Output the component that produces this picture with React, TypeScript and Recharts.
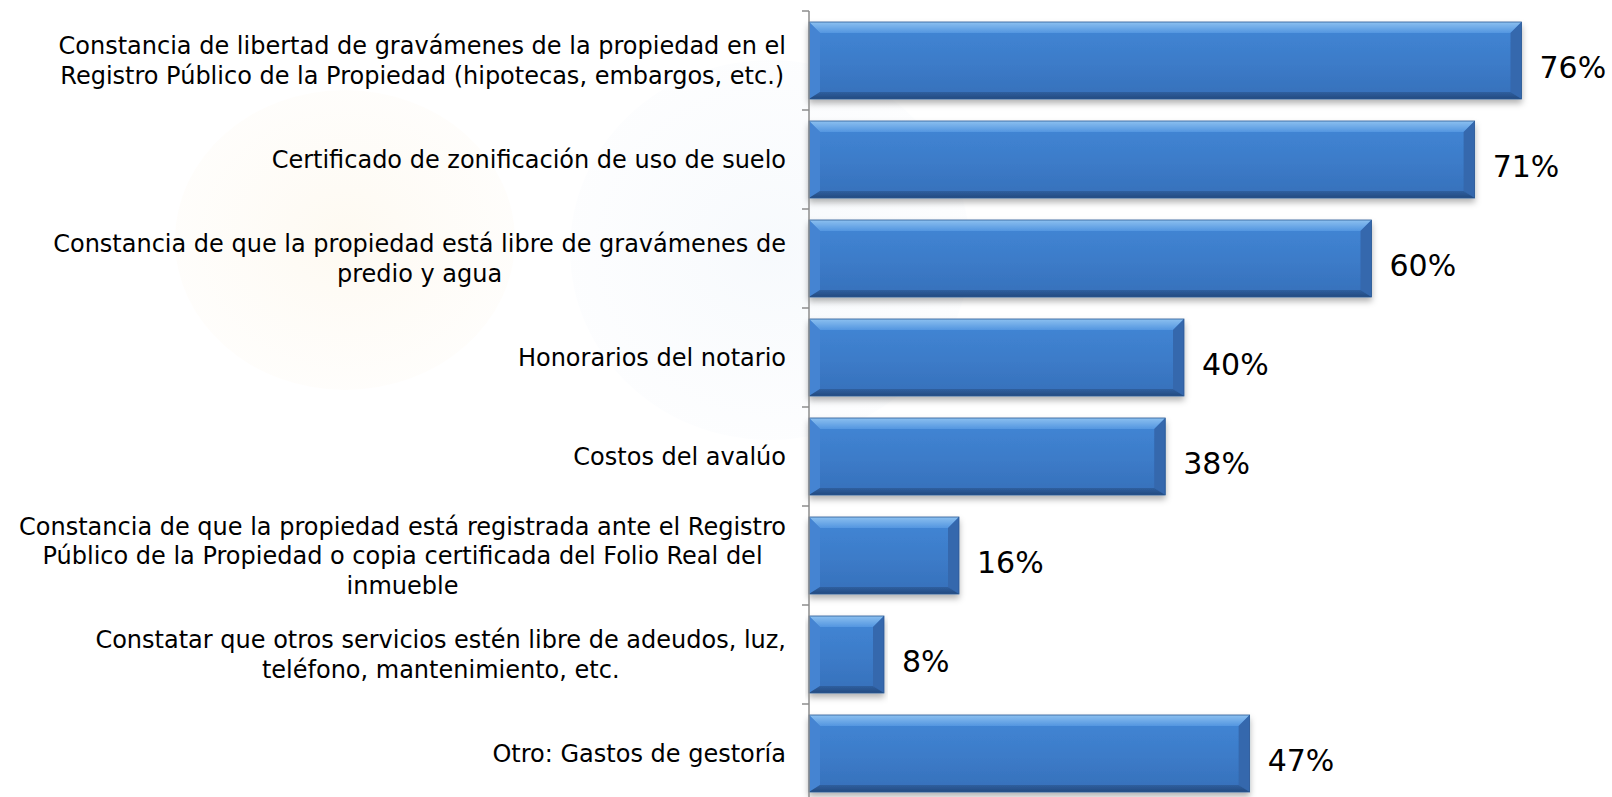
import React from 'react'
import { BarChart, Bar, XAxis, YAxis, LabelList, Customized } from 'recharts'

const categories = [
  'Constancia de libertad de gravámenes de la propiedad en el\nRegistro Público de la Propiedad (hipotecas, embargos, etc.)',
  'Certificado de zonificación de uso de suelo',
  'Constancia de que la propiedad está libre de gravámenes de\npredio y agua',
  'Honorarios del notario',
  'Costos del avalúo',
  'Constancia de que la propiedad está registrada ante el Registro\nPúblico de la Propiedad o copia certificada del Folio Real del\ninmueble',
  'Constatar que otros servicios estén libre de adeudos, luz,\nteléfono, mantenimiento, etc.',
  'Otro: Gastos de gestoría',
]
const values = [76, 71, 60, 40, 38, 16, 8, 47]

const data = categories.map((name, i) => ({ name, value: values[i] }))

const FONT = '"DejaVu Sans", Verdana, sans-serif'
const LABEL_SIZE = 24
const LINE_H = 29.5
const BAND = 99

let ctx: CanvasRenderingContext2D | null = null
const measure = (s: string) => {
  if (!ctx) ctx = document.createElement('canvas').getContext('2d')
  if (!ctx) return s.length * LABEL_SIZE * 0.6
  ctx.font = `${LABEL_SIZE}px "DejaVu Sans"`
  return ctx.measureText(s).width
}

const CategoryTick = ({ x, y, payload }: any) => {
  const lines = String(payload.value).split('\n')
  const axisX = x + 23
  const blockW = Math.max(...lines.map(measure))
  const cx = x - blockW / 2
  const y0 = y - ((lines.length - 1) * LINE_H) / 2
  return (
    <g>
      <line x1={axisX - 7} x2={axisX} y1={y - BAND / 2} y2={y - BAND / 2} stroke="#8c8c8c" strokeWidth={1.5} />
      <text textAnchor="middle" fontFamily={FONT} fontSize={LABEL_SIZE} fill="#000">
        {lines.map((l, i) => (
          <tspan key={i} x={cx} y={y0 + i * LINE_H} dy="0.36em">{l}</tspan>
        ))}
      </text>
    </g>
  )
}

const BevelBar = (props: any) => {
  const { x, y, width: w, height: h } = props
  if (!w || w <= 0) return null
  const b = Math.min(11, w / 3)
  const bt = 11
  const bb = 7
  return (
    <g filter="url(#barShadow)">
      <rect x={x} y={y} width={w} height={h} fill="url(#faceGrad)" />
      <polygon points={`${x},${y} ${x + w},${y} ${x + w - b},${y + bt} ${x + b},${y + bt}`} fill="url(#topGrad)" />
      <polygon points={`${x},${y} ${x + b},${y + bt} ${x + b},${y + h - bb} ${x},${y + h}`} fill="#4584d2" />
      <polygon points={`${x + w},${y} ${x + w - b},${y + bt} ${x + w - b},${y + h - bb} ${x + w},${y + h}`} fill="#3467ad" />
      <polygon points={`${x},${y + h} ${x + w},${y + h} ${x + w - b},${y + h - bb} ${x + b},${y + h - bb}`} fill="url(#botGrad)" />
      <rect x={x} y={y} width={w} height={h} fill="none" stroke="#2c5a94" strokeWidth={0.8} />
    </g>
  )
}

const Watermark = () => (
  <g>
    <ellipse cx={345} cy={240} rx={170} ry={150} fill="url(#wmOrange)" />
    <ellipse cx={770} cy={250} rx={200} ry={190} fill="url(#wmBlue)" />
  </g>
)

export default function App() {
  return (
    <div style={{ position: 'fixed', left: 0, top: 0, width: 1612, height: 797, overflow: 'hidden', background: '#fff' }}>
      <BarChart
        width={1612}
        height={812}
        data={data}
        layout="vertical"
        margin={{ top: 11, right: 53, left: 0, bottom: 9 }}
        barCategoryGap={11}
      >
        <defs>
          <linearGradient id="faceGrad" x1="0" y1="0" x2="0" y2="1">
            <stop offset="0%" stopColor="#4287d6" />
            <stop offset="55%" stopColor="#3c7bc8" />
            <stop offset="100%" stopColor="#3670ba" />
          </linearGradient>
          <linearGradient id="topGrad" x1="0" y1="0" x2="0" y2="1">
            <stop offset="0%" stopColor="#8cc0f0" />
            <stop offset="100%" stopColor="#5396e0" />
          </linearGradient>
          <linearGradient id="botGrad" x1="0" y1="0" x2="0" y2="1">
            <stop offset="0%" stopColor="#2f5f9f" />
            <stop offset="100%" stopColor="#234a80" />
          </linearGradient>
          <radialGradient id="wmOrange">
            <stop offset="0%" stopColor="#fdf6e8" stopOpacity={0.6} />
            <stop offset="100%" stopColor="#fdf8ef" stopOpacity={0.25} />
          </radialGradient>
          <radialGradient id="wmBlue">
            <stop offset="0%" stopColor="#f1f6fb" stopOpacity={0.6} />
            <stop offset="100%" stopColor="#f5f8fc" stopOpacity={0.25} />
          </radialGradient>
          <filter id="barShadow" x="-5%" y="-10%" width="110%" height="130%">
            <feDropShadow dx="0" dy="4" stdDeviation="3" floodColor="#000" floodOpacity={0.3} />
          </filter>
        </defs>
        <Customized component={Watermark} />
        <XAxis type="number" domain={[0, 80]} hide />
        <YAxis
          type="category"
          dataKey="name"
          width={809}
          interval={0}
          tick={<CategoryTick />}
          tickLine={false}
          tickSize={7}
          tickMargin={16}
          axisLine={{ stroke: '#8c8c8c', strokeWidth: 1.5 }}
        />
        <Bar dataKey="value" shape={<BevelBar />} isAnimationActive={false}>
          <LabelList
            dataKey="value"
            position="right"
            offset={18}
            formatter={(v: any) => `${v}%`}
            style={{ fontFamily: FONT, fontSize: 30, fill: '#000' }}
            dy={7}
          />
        </Bar>
      </BarChart>
    </div>
  )
}
